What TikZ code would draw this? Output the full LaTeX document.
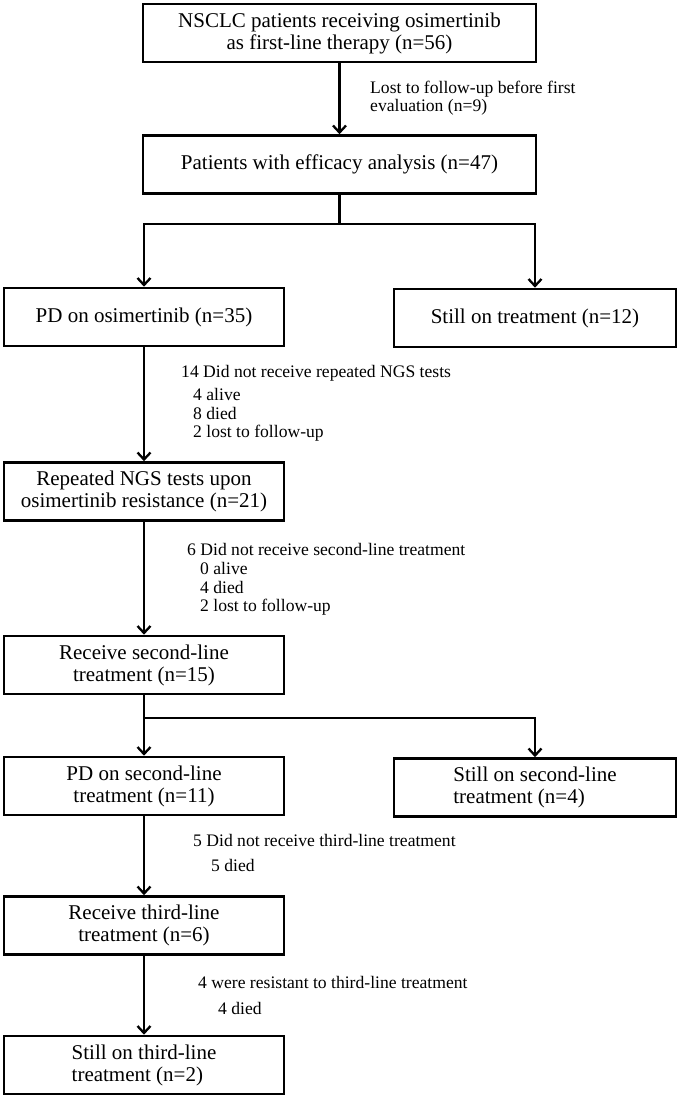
\documentclass[tikz,border=0pt]{standalone}
\usepackage{fontspec}
\setmainfont{Liberation Serif}
\usetikzlibrary{arrows.meta}

\begin{document}
\begin{tikzpicture}[x=1pt,y=-1pt,
    box/.style={draw, line width=2.6pt, minimum height=58pt, inner sep=0pt,
      align=center, font=\fontsize{21}{22}\selectfont},
    widebox/.style={box, minimum width=393pt},
    halfbox/.style={box, minimum width=280pt},
    note/.style={anchor=west, align=left, inner sep=0pt,
      font=\fontsize{17.6}{18.5}\selectfont},
    conn/.style={line width=2.3pt},
    arr/.style={conn, -{Straight Barb[length=7pt,width=13pt,line width=2.3pt]}}]

    \useasboundingbox (0,0) rectangle (680,1098);

    % first line
    \node[widebox] (first) at (339.5,33) {NSCLC patients receiving osimertinib\\as first-line therapy (n=56)};
    \node[widebox] (efficacy) at (339.5,164.5) {Patients with efficacy analysis (n=47)};
    \node[note] (lost) at (370,98) {Lost to follow-up before first\\evaluation (n=9)};

    \node[halfbox] (pd1) at (144,317) {PD on osimertinib (n=35)};
    \node[halfbox, minimum width=282pt] (still1) at (535,318) {Still on treatment (n=12)};

    \node[note] (nongs) at (181,373) {14 Did not receive repeated NGS tests};
    \node[note] (nongsb) at (193,415) {4 alive\\8 died\\2 lost to follow-up};
    \node[halfbox] (ngs) at (144,491.5) {Repeated NGS tests upon\\osimertinib resistance (n=21)};

    % second line
    \node[note] (nosecond) at (187,549) {6 Did not receive second-line treatment};
    \node[note] (nosecondb) at (200,589) {0 alive\\4 died\\2 lost to follow-up};
    \node[halfbox] (second) at (144,665) {Receive second-line\\treatment (n=15)};

    \node[halfbox] (pd2) at (144,786) {PD on second-line\\treatment (n=11)};
    \node[halfbox, minimum width=282pt, align=left] (still2) at (535,787.5) {Still on second-line\\treatment (n=4)};

    % third line
    \node[note] (nothird) at (193,840) {5 Did not receive third-line treatment};
    \node[note] (nothirdb) at (211,865) {5 died};
    \node[halfbox] (third) at (144,925.5) {Receive third-line\\treatment (n=6)};

    \node[note] (resist) at (198,982) {4 were resistant to third-line treatment};
    \node[note] (resistb) at (218,1008) {4 died};
    \node[halfbox, align=left] (still3) at (144,1065) {Still on third-line\\treatment (n=2)};

    % connectors
    \coordinate (fork1) at (339.5,224);
    \coordinate (fork2) at (144,718);

    \draw[arr] (first) -- (efficacy);
    \draw[conn] (efficacy) -- (fork1);
    \draw[arr] (fork1) -| (pd1);
    \draw[arr] (fork1) -| (still1);
    \draw[arr] (pd1) -- (ngs);
    \draw[arr] (ngs) -- (second);
    \draw[arr] (second) -- (pd2);
    \draw[arr] (fork2) -| (still2);
    \draw[arr] (pd2) -- (third);
    \draw[arr] (third) -- (still3);

\end{tikzpicture}
\end{document}
